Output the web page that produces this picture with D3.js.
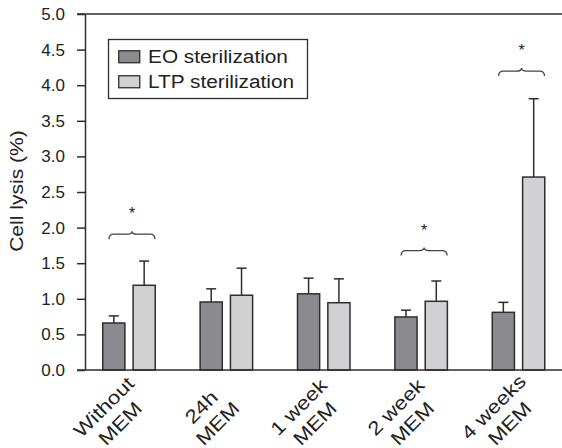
<!DOCTYPE html>
<html>
<head>
<meta charset="utf-8">
<script src="https://cdn.jsdelivr.net/npm/d3@7"></script>
<style>
  body { margin: 0; background: #fff; }
  text { font-family: Arial, "Liberation Sans", Helvetica, sans-serif; fill: #222; }
</style>
</head>
<body>
<svg width="562" height="448"></svg>
<script>
// values
var categories = ['Without MEM', '24h MEM', '1 week MEM', '2 week MEM', '4 weeks MEM'];
var labelLines = [['Without', 'MEM'], ['24h', 'MEM'], ['1 week', 'MEM'], ['2 week', 'MEM'], ['4 weeks', 'MEM']];
var series = ['EO sterilization', 'LTP sterilization'];
var eoMean = [0.66, 0.955, 1.07, 0.745, 0.81];
var eoSd = [0.10, 0.185, 0.22, 0.095, 0.14];
var ltpMean = [1.19, 1.05, 0.945, 0.965, 2.71];
var ltpSd = [0.34, 0.38, 0.335, 0.285, 1.10];
var sigGroups = ['Without MEM', '2 week MEM', '4 weeks MEM'];
var sigLevel = [1.95, 1.72, 4.24];
var yTicks = [0, 0.5, 1, 1.5, 2, 2.5, 3, 3.5, 4, 4.5, 5];

var colors = ['#8b8b8f', '#d1d1d3'];
var stroke = '#2e2e2e';

var svg = d3.select('svg');

var yScale = d3.scaleLinear().domain([0, 5]).range([370, 14]);
var xScale = d3.scaleBand().domain(categories).range([80.3, 567.2]);
var x1 = d3.scaleBand().domain(series).range([-27, 27]).paddingInner(0.22);

function widen(sel, k) {
  sel.each(function () {
    var len = this.getComputedTextLength();
    d3.select(this).attr('textLength', len * k).attr('lengthAdjust', 'spacingAndGlyphs');
  });
}

var data = [];
categories.forEach(function (c, i) {
  data.push({ cat: c, s: series[0], v: eoMean[i], sd: eoSd[i], col: colors[0] });
  data.push({ cat: c, s: series[1], v: ltpMean[i], sd: ltpSd[i], col: colors[1] });
});
function cx(d) { return xScale(d.cat) + xScale.bandwidth() / 2; }

// error bars (upper only)
var err = svg.append('g').attr('stroke', stroke).attr('stroke-width', 1.5);
err.selectAll('.ev').data(data).enter().append('line')
  .attr('x1', (d) => cx(d) + x1(d.s) + x1.bandwidth() / 2)
  .attr('x2', (d) => cx(d) + x1(d.s) + x1.bandwidth() / 2)
  .attr('y1', (d) => yScale(d.v))
  .attr('y2', (d) => yScale(d.v + d.sd));
err.selectAll('.ec').data(data).enter().append('line')
  .attr('x1', (d) => cx(d) + x1(d.s) + x1.bandwidth() / 2 - 5)
  .attr('x2', (d) => cx(d) + x1(d.s) + x1.bandwidth() / 2 + 5)
  .attr('y1', (d) => yScale(d.v + d.sd))
  .attr('y2', (d) => yScale(d.v + d.sd));

// bars
svg.append('g').selectAll('rect').data(data).enter().append('rect')
  .attr('x', (d) => cx(d) + x1(d.s) + 0.75)
  .attr('y', (d) => yScale(d.v))
  .attr('width', x1.bandwidth() - 1.5)
  .attr('height', (d) => yScale(0) - yScale(d.v))
  .attr('fill', (d) => d.col)
  .attr('stroke', stroke)
  .attr('stroke-width', 1.5);

// y axis
var yAxis = d3.axisLeft(yScale).tickValues(yTicks).tickFormat(d3.format('.1f'))
  .tickSize(8).tickSizeOuter(0).tickPadding(12);
var ga = svg.append('g').attr('transform', 'translate(85,0)').call(yAxis);
ga.select('.domain').attr('stroke', stroke).attr('stroke-width', 1.5);
ga.selectAll('.tick line').attr('stroke', stroke).attr('stroke-width', 1.5);
ga.selectAll('.tick text').attr('font-size', 17).attr('fill', '#222')
  .attr('font-family', 'Arial, "Liberation Sans", sans-serif');

// top and bottom frame lines
svg.append('g').attr('stroke', stroke).attr('stroke-width', 1.5)
  .selectAll('line').data([0, 5]).enter().append('line')
  .attr('x1', 77).attr('x2', 562)
  .attr('y1', (d) => yScale(d)).attr('y2', (d) => yScale(d));

// y title
svg.append('text')
  .attr('transform', 'translate(23,' + 191 + ') rotate(-90)')
  .attr('text-anchor', 'middle')
  .attr('font-size', 18)
  .text('Cell lysis (%)')
  .call(widen, 1.17);

// x labels
var xl = svg.append('g').selectAll('g').data(categories).enter().append('g')
  .attr('transform', (d) => 'translate(' + (xScale(d) + xScale.bandwidth() / 2) + ',370) rotate(-45)');
xl.each(function (d, i) {
  var g = d3.select(this);
  labelLines[i].forEach(function (line, j) {
    g.append('text')
      .attr('x', -44).attr('y', 15 + j * 23)
      .attr('text-anchor', 'middle')
      .attr('font-size', 19)
      .text(line)
      .call(widen, 1.18);
  });
});

// significance braces
var sig = svg.append('g').selectAll('g').data(sigGroups).enter().append('g')
  .attr('transform', (d, i) => 'translate(' + (xScale(d) + xScale.bandwidth() / 2 + 3) + ',' + yScale(sigLevel[i]) + ')');
sig.append('path')
  .attr('d', 'M-23,8 Q-23,3 -18,3 L-5,3 Q0,3 0,0 Q0,3 5,3 L18,3 Q23,3 23,8')
  .attr('fill', 'none').attr('stroke', '#444').attr('stroke-width', 1.3);
sig.append('text')
  .attr('y', -12)
  .attr('text-anchor', 'middle')
  .attr('font-size', 16)
  .text('*');

// legend
var lg = svg.append('g');
lg.append('rect').attr('x', 108.5).attr('y', 39.5).attr('width', 199).attr('height', 59)
  .attr('fill', '#fff').attr('stroke', stroke).attr('stroke-width', 1.3);
var li = lg.selectAll('g').data(series).enter().append('g')
  .attr('transform', (d, i) => 'translate(118,' + (50 + i * 25) + ')');
li.append('rect').attr('x', 0.75).attr('y', 0.75).attr('width', 21).attr('height', 12)
  .attr('fill', (d, i) => colors[i]).attr('stroke', stroke).attr('stroke-width', 1.3);
li.append('text').attr('x', 30).attr('y', 13)
  .attr('font-size', 18)
  .text((d) => d)
  .call(widen, 1.156);
</script>
</body>
</html>
